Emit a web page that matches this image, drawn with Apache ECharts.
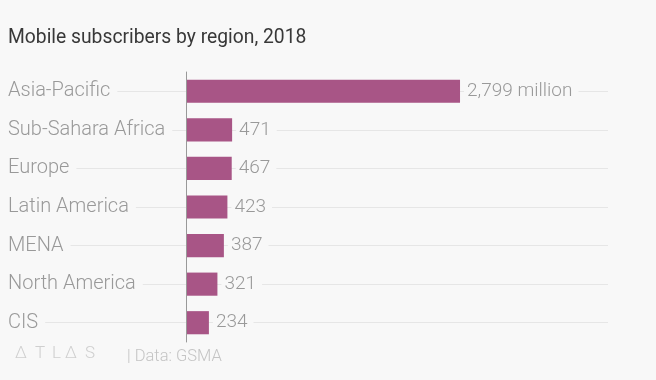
<!DOCTYPE html>
<html>
<head>
<meta charset="utf-8">
<script src="https://cdn.jsdelivr.net/npm/echarts@6/dist/echarts.min.js"></script>
<style>
html,body{margin:0;padding:0;background:#f8f8f8;}
#chart{width:656px;height:380px;}
</style>
</head>
<body>
<div id="chart"></div>
<script>
const categories = ['Asia-Pacific', 'Sub-Sahara Africa', 'Europe', 'Latin America', 'MENA', 'North America', 'CIS'];
const subscribers = [2799, 471, 467, 423, 387, 321, 234];
const titleText = 'Mobile subscribers by region, 2018';
const sourceText = '| Data: GSMA';
const logoLetters = ['Δ', 'T', 'L', 'Δ', 'S'];

const BG = '#f8f8f8';
const chart = echarts.init(document.getElementById('chart'), null, {renderer: 'canvas'});
const fmt = v => v.toLocaleString('en-US');
const logoX = [15, 35, 52, 65, 85];

chart.setOption({
  backgroundColor: BG,
  animation: false,
  textStyle: {fontFamily: 'Roboto'},
  title: {
    text: titleText,
    left: 3,
    top: 24,
    textStyle: {fontFamily: 'Roboto', fontSize: 19.3, fontWeight: 'normal', color: '#383838'}
  },
  grid: {left: 186, right: 78.4, top: 72, bottom: 38},
  xAxis: {
    type: 'value', min: 0, max: 4000, show: false
  },
  yAxis: {
    type: 'category',
    data: categories,
    inverse: true,
    z: 10,
    axisLine: {show: true, lineStyle: {color: '#999', width: 1}},
    axisTick: {show: false},
    splitLine: {show: false},
    axisLabel: {
      align: 'left',
      margin: 178,
      fontFamily: 'Roboto',
      fontWeight: 300,
      fontSize: 20,
      color: '#999',
      backgroundColor: BG,
      padding: [2, 7, 2, 0]
    }
  },
  series: [{
    type: 'bar',
    data: subscribers,
    barWidth: '60%',
    itemStyle: {color: '#a85586'},
    label: {
      show: true,
      position: 'right',
      distance: 4,
      fontFamily: 'Roboto',
      fontWeight: 300,
      fontSize: 19,
      color: '#999',
      backgroundColor: BG,
      padding: [2, 6, 2, 3],
      formatter: p => p.dataIndex === 0 ? fmt(p.value) + ' million' : fmt(p.value)
    },
    markLine: {
      z: 1,
      silent: true,
      symbol: 'none',
      animation: false,
      label: {show: false},
      lineStyle: {color: '#e6e6e6', type: 'solid', width: 1},
      data: categories.map((c, i) => [{x: 8, yAxis: i}, {x: 608, yAxis: i}])
    }
  }],
  graphic: logoLetters.map((ch, i) => ({
    type: 'text', left: logoX[i], top: 345,
    style: {text: ch, fontFamily: 'Roboto', fontWeight: 300, fontSize: 17, fill: '#cfcfcf'}
  })).concat([
    {type: 'text', left: 127, top: 348, style: {text: sourceText, fontFamily: 'Roboto', fontWeight: 300, fontSize: 16.5, fill: '#c4c4c4'}}
  ])
});
</script>
</body>
</html>
